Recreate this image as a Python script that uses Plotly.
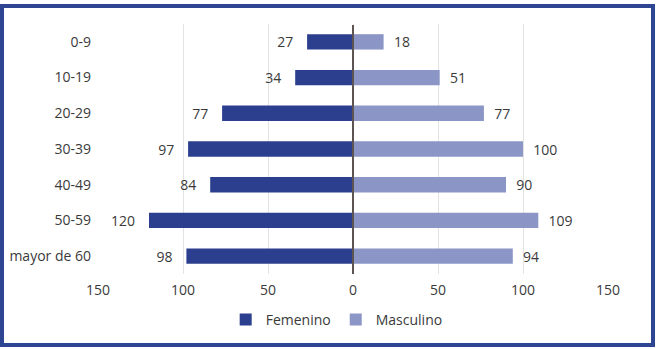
import plotly.graph_objects as go

# Age groups and counts by sex
age_groups = ["0-9", "10-19", "20-29", "30-39", "40-49", "50-59", "mayor de 60"]
femenino = [27, 34, 77, 97, 84, 120, 98]
masculino = [18, 51, 77, 100, 90, 109, 94]
tick_values = [-150, -100, -50, 0, 50, 100, 150]
tick_labels = ["150", "100", "50", "0", "50", "100", "150"]

W, H = 656, 349
L, R, T, B = 98, 48, 24, 75
pw, ph = W - L - R, H - T - B

dark = "#2B3F8E"
light = "#8B96C6"
text_col = "#3A3A3A"
font_family = "'Open Sans', sans-serif"
fs = 14

fig = go.Figure()
fig.add_trace(go.Bar(
    y=age_groups, x=[-v for v in femenino], orientation="h", name="Femenino",
    marker=dict(color=dark, line=dict(width=0)),
    text=[str(v) for v in femenino], texttemplate="%{text}   ",
    textposition="outside", constraintext="none",
    textfont=dict(size=fs, color=text_col), cliponaxis=False,
    hoverinfo="skip",
))
fig.add_trace(go.Bar(
    y=age_groups, x=masculino, orientation="h", name="Masculino",
    marker=dict(color=light, line=dict(width=0)),
    text=[str(v) for v in masculino], texttemplate="  %{text}",
    textposition="outside", constraintext="none",
    textfont=dict(size=fs, color=text_col), cliponaxis=False,
    hoverinfo="skip",
))

# pixel -> paper coordinate helpers
def px_x(x):
    return (x - L) / pw

def px_y(y):
    return (H - B - y) / ph

shapes = [
    # outer frame
    dict(type="rect", xref="paper", yref="paper",
         x0=px_x(2), x1=px_x(653), y0=px_y(345), y1=px_y(6),
         line=dict(color="#2E4593", width=4), fillcolor="rgba(0,0,0,0)", layer="above"),
    # centre axis line
    dict(type="line", xref="x", yref="paper", x0=0, x1=0, y0=px_y(274), y1=px_y(25),
         line=dict(color="#5E5552", width=2), layer="above"),
]

fig.update_layout(
    width=W, height=H,
    margin=dict(l=L, r=R, t=T, b=B, autoexpand=False),
    paper_bgcolor="white", plot_bgcolor="white",
    barmode="relative", bargap=0.57,
    font=dict(family=font_family, size=fs, color=text_col),
    showlegend=True,
    legend=dict(orientation="h", x=0.468, xanchor="center", y=px_y(320), yanchor="middle",
                font=dict(size=fs, color=text_col), itemwidth=30, traceorder="normal"),
    xaxis=dict(range=[-150, 150], tickvals=tick_values, ticktext=tick_labels,
               showgrid=True, gridcolor="#E3E3E3", gridwidth=1, zeroline=False,
               showline=False, ticks="", tickfont=dict(size=fs, color=text_col),
               ticklabelstandoff=6, automargin=False, fixedrange=True),
    yaxis=dict(autorange="reversed", showgrid=False, zeroline=False, showline=False,
               ticks="", tickfont=dict(size=fs, color=text_col), ticklabelstandoff=6,
               automargin=False, fixedrange=True),
    shapes=shapes,
)

fig.write_html("out.html")
